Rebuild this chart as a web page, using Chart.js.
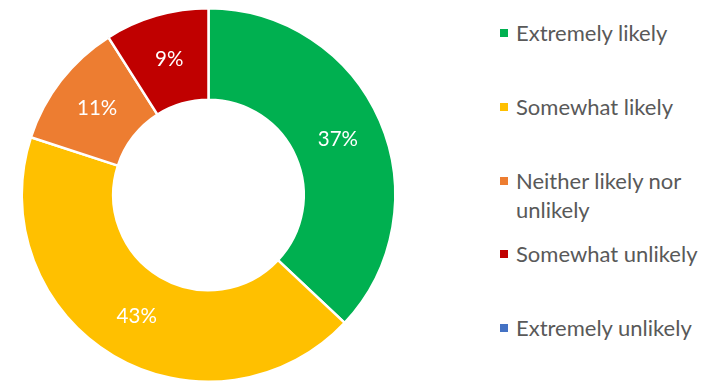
<!DOCTYPE html>
<html>
<head>
<meta charset="utf-8">
<script src="https://cdn.jsdelivr.net/npm/chart.js@4.4.0/dist/chart.umd.min.js"></script>
<style>
  html, body { margin: 0; padding: 0; background: #fff; }
  body { width: 717px; height: 383px; position: relative; overflow: hidden; font-family: Lato, "Open Sans", sans-serif; }
  #wrap { position: absolute; left: 0; top: 0; width: 417px; height: 383px; }
  #legend { position: absolute; left: 500px; top: 0; width: 217px; height: 383px; }
  .item { position: absolute; left: 0; display: flex; align-items: flex-start; color: #595959; font-size: 22px; line-height: 29px; white-space: nowrap; }
  .box { width: 8px; height: 8px; margin-top: 11px; margin-right: 8px; flex: none; }
</style>
</head>
<body>
<div id="wrap"><canvas id="chart"></canvas></div>
<div id="legend"></div>
<script>
const labels = ['Extremely likely', 'Somewhat likely', 'Neither likely nor unlikely', 'Somewhat unlikely', 'Extremely unlikely'];
const legendLines = [['Extremely likely'], ['Somewhat likely'], ['Neither likely nor', 'unlikely'], ['Somewhat unlikely'], ['Extremely unlikely']];
const values = [37, 43, 11, 9, 0];
const colors = ['#00B050', '#FFC000', '#ED7D31', '#C00000', '#4472C4'];

const pctLabels = {
  id: 'pctLabels',
  afterDatasetsDraw(chart) {
    const ctx = chart.ctx;
    const meta = chart.getDatasetMeta(0);
    ctx.save();
    ctx.fillStyle = '#fff';
    ctx.font = '20.5px Lato, "Open Sans", sans-serif';
    ctx.textAlign = 'center';
    ctx.textBaseline = 'middle';
    meta.data.forEach((arc, i) => {
      if (!values[i]) return;
      const p = arc.tooltipPosition();
      ctx.fillText(values[i] + '%', p.x, p.y);
    });
    ctx.restore();
  }
};

new Chart(document.getElementById('chart'), {
  type: 'doughnut',
  data: { labels: labels, datasets: [{ data: values, backgroundColor: colors, borderColor: '#fff', borderWidth: 2.5 }] },
  options: {
    responsive: true,
    maintainAspectRatio: false,
    animation: false,
    cutout: '51%',
    layout: { padding: { top: 7, bottom: 0 } },
    plugins: { legend: { display: false }, tooltip: { enabled: false } }
  },
  plugins: [pctLabels]
});

// legend built by hand so the long label can wrap like the original
const legend = document.getElementById('legend');
legendLines.forEach((lines, i) => {
  const d = document.createElement('div');
  d.className = 'item';
  d.style.top = (18 + i * 73.8) + 'px';
  d.innerHTML = `<span class="box" style="background:${colors[i]}"></span><span>${lines.join('<br>')}</span>`;
  legend.appendChild(d);
});
</script>
</body>
</html>
